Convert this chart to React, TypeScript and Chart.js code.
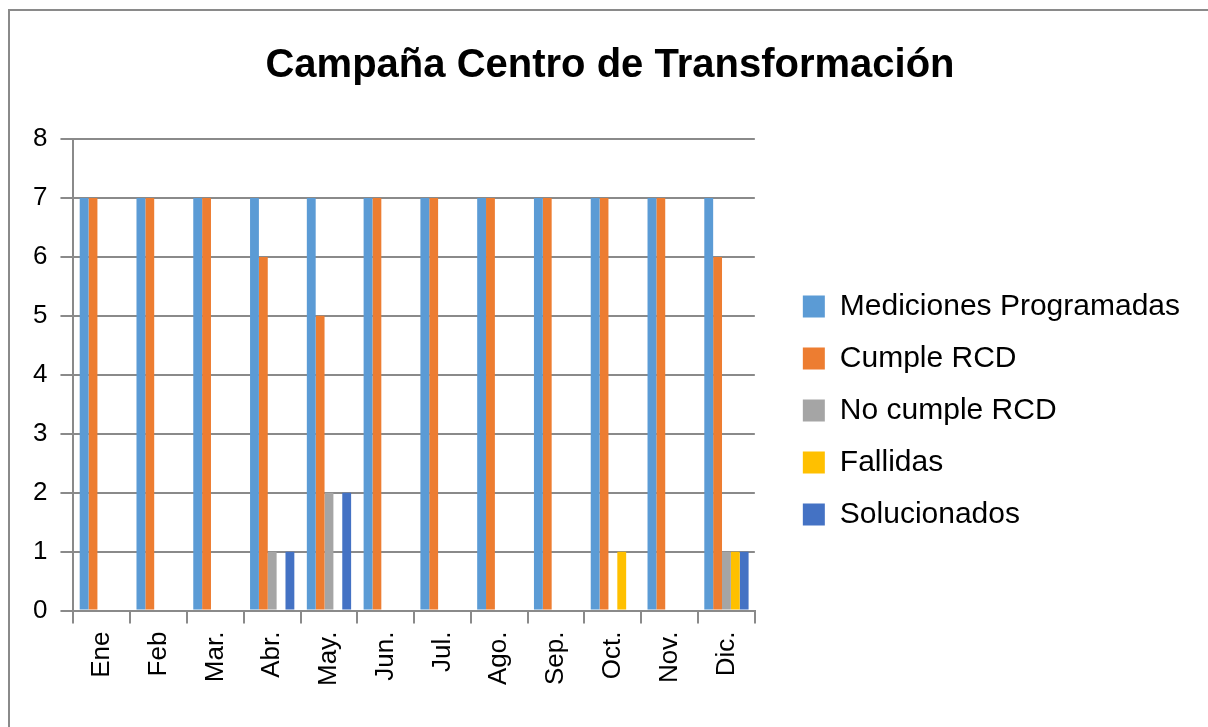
import React, { useEffect, useRef } from "react";
import { Chart, registerables } from "chart.js";

Chart.register(...registerables);

const categories = ["Ene", "Feb", "Mar.", "Abr.", "May.", "Jun.", "Jul.", "Ago.", "Sep.", "Oct.", "Nov.", "Dic."];
const medicionesProgramadas = [7, 7, 7, 7, 7, 7, 7, 7, 7, 7, 7, 7];
const cumpleRCD = [7, 7, 7, 6, 5, 7, 7, 7, 7, 7, 7, 6];
const noCumpleRCD = [0, 0, 0, 1, 2, 0, 0, 0, 0, 0, 0, 1];
const fallidas = [0, 0, 0, 0, 0, 0, 0, 0, 0, 1, 0, 1];
const solucionados = [0, 0, 0, 1, 2, 0, 0, 0, 0, 0, 0, 1];
const yMin = 0;
const yMax = 8;
const yStep = 1;

const FONT = "'Liberation Sans', Arial, sans-serif";
const GRID = "#8a8a8a";

const titleShift = {
  id: "titleShift",
  afterLayout(chart: any) {
    const t = chart.titleBlock;
    if (t) t.left += 10;
  },
};

export default function App() {
  const ref = useRef<HTMLCanvasElement | null>(null);

  useEffect(() => {
    if (!ref.current) return;
    const mk = (label: string, data: number[], color: string) => ({
      label,
      data,
      backgroundColor: color,
      borderWidth: 0,
      categoryPercentage: 0.78,
      barPercentage: 1.0,
    });
    const chart = new Chart(ref.current, {
      type: "bar",
      data: {
        labels: categories,
        datasets: [
          mk("Mediciones Programadas", medicionesProgramadas, "#5B9BD5"),
          mk("Cumple RCD", cumpleRCD, "#ED7D31"),
          mk("No cumple RCD", noCumpleRCD, "#A5A5A5"),
          mk("Fallidas", fallidas, "#FFC000"),
          mk("Solucionados", solucionados, "#4472C4"),
        ],
      },
      plugins: [titleShift],
      options: {
        responsive: false,
        animation: false,
        layout: { padding: { left: 10, right: 18, top: 0, bottom: 33 } },
        plugins: {
          title: {
            display: true,
            text: "Campaña Centro de Transformación",
            color: "#000",
            font: { family: FONT, size: 40, weight: "bold" },
            padding: { top: 31, bottom: 49 },
          },
          legend: {
            display: true,
            position: "right",
            maxWidth: 440,
            title: {
              display: true,
              text: " ",
              font: { family: FONT, size: 1 },
              padding: { top: 115, bottom: 0 },
            },
            labels: {
              color: "#000",
              font: { family: FONT, size: 30 },
              boxWidth: 22,
              boxHeight: 22,
              padding: 22,
            },
          },
          tooltip: { enabled: false },
        },
        scales: {
          x: {
            grid: {
              display: true,
              drawOnChartArea: false,
              offset: true,
              tickLength: 13,
              color: GRID,
              lineWidth: 2,
            },
            border: { display: true, color: GRID, width: 2 },
            ticks: {
              color: "#000",
              font: { family: FONT, size: 26 },
              maxRotation: 90,
              minRotation: 90,
              padding: 8,
              autoSkip: false,
            },
          },
          y: {
            min: yMin,
            max: yMax,
            grid: { color: GRID, lineWidth: 2, tickLength: 13 },
            border: { display: true, color: GRID, width: 2 },
            ticks: {
              stepSize: yStep,
              color: "#000",
              font: { family: FONT, size: 26 },
              padding: 13,
            },
          },
          gap: {
            type: "linear",
            axis: "y",
            position: "right",
            display: true,
            grid: { display: false },
            border: { display: false },
            ticks: { display: false },
            afterFit: (s: any) => {
              s.width = 26;
            },
          },
        },
      } as any,
    });
    return () => chart.destroy();
  }, []);

  return (
    <div
      style={{
        position: "fixed",
        left: 8,
        top: 9,
        width: 1200,
        height: 718,
        borderTop: "2px solid #8a8a8a",
        borderLeft: "2px solid #8a8a8a",
        background: "#fff",
      }}
    >
      <canvas ref={ref} width={1198} height={716} style={{ display: "block" }} />
    </div>
  );
}
